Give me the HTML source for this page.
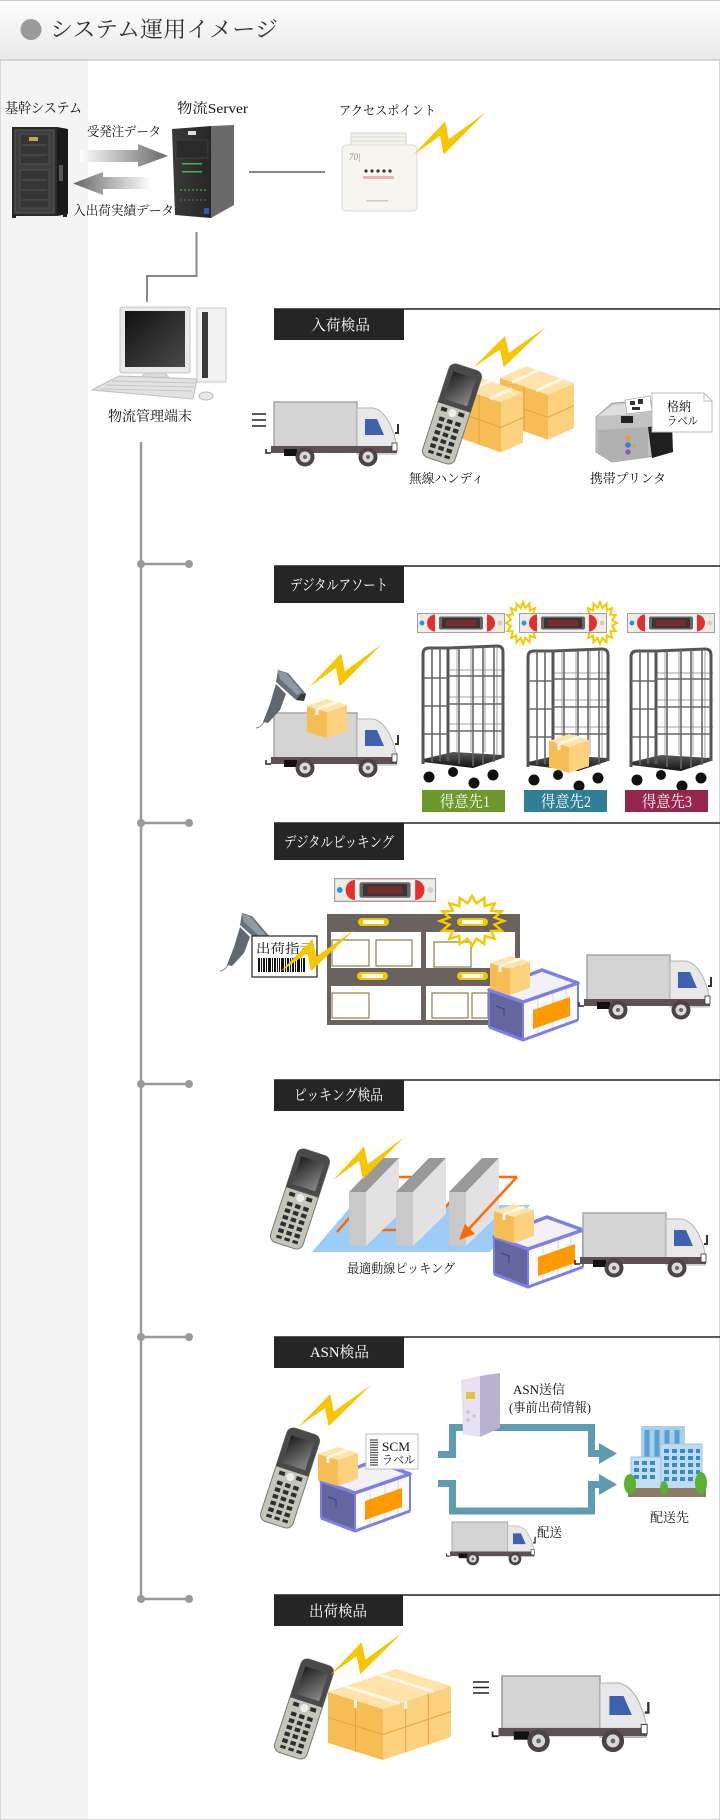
<!DOCTYPE html>
<html><head><meta charset="utf-8"><style>
html,body{margin:0;padding:0;background:#fff;}
svg{display:block;}
.t{font-family:"Liberation Serif","Noto Serif CJK SC",serif;}
</style></head><body>
<svg width="720" height="1820" viewBox="0 0 720 1820" xmlns="http://www.w3.org/2000/svg">
<defs>
<linearGradient id="hg" x1="0" y1="0" x2="0" y2="1"><stop offset="0" stop-color="#fdfdfd"/><stop offset="1" stop-color="#eaeaea"/></linearGradient>
<linearGradient id="ar" x1="0" x2="1" y1="0" y2="0"><stop offset="0" stop-color="#fff"/><stop offset="1" stop-color="#666"/></linearGradient>
<linearGradient id="al" x1="0" x2="1" y1="0" y2="0"><stop offset="0" stop-color="#666"/><stop offset="1" stop-color="#fff"/></linearGradient>
<linearGradient id="scr" x1="0" y1="0" x2="1" y2="1"><stop offset="0" stop-color="#1e1e1e"/><stop offset="1" stop-color="#8a8a8a"/></linearGradient>
<linearGradient id="plat" x1="0" y1="0" x2="0" y2="1"><stop offset="0" stop-color="#5a5a5a"/><stop offset="1" stop-color="#111"/></linearGradient>
<linearGradient id="pcs" x1="0" y1="0" x2="1" y2="1"><stop offset="0" stop-color="#111"/><stop offset="1" stop-color="#4a4a4a"/></linearGradient>
<linearGradient id="tw" x1="0" y1="0" x2="1" y2="0"><stop offset="0" stop-color="#3a3a3a"/><stop offset="1" stop-color="#262626"/></linearGradient>

<polygon id="bolt" points="0,60 44,13 49,38 100,0 42,59 37,33" fill="#f7c600"/>

<polygon id="burst" vector-effect="non-scaling-stroke" points="1,0 .706,.14 .924,.383 .598,.4 .707,.707 .4,.598 .383,.924 .14,.706 0,1 -.14,.706 -.383,.924 -.4,.598 -.707,.707 -.598,.4 -.924,.383 -.706,.14 -1,0 -.706,-.14 -.924,-.383 -.598,-.4 -.707,-.707 -.4,-.598 -.383,-.924 -.14,-.706 0,-1 .14,-.706 .383,-.924 .4,-.598 .707,-.707 .598,-.4 .924,-.383 .706,-.14"/>

<g id="truck">
<rect x="0" y="0" width="83" height="46" fill="#d4d4d4" stroke="#a6a6a6" stroke-width="1.5"/>
<path d="M83,6 L99,6 Q109,8 116,22 L120,32 L122,40 L122,52 L83,52 Z" fill="#e8e8e8" stroke="#b4b4b4" stroke-width="1"/>
<path d="M91,17 L103,17 L110,33 L91,33 Z" fill="#3e62ae"/>
<rect x="-3" y="44" width="126" height="7" fill="#5f5153"/>
<rect x="10" y="47" width="13" height="7" fill="#111"/>
<circle cx="31" cy="55" r="9.5" fill="#4d4245"/><circle cx="31" cy="55" r="5.5" fill="#d9d9d9"/><circle cx="31" cy="55" r="2" fill="#666"/>
<circle cx="94" cy="55" r="9.5" fill="#4d4245"/><circle cx="94" cy="55" r="5.5" fill="#d9d9d9"/><circle cx="94" cy="55" r="2" fill="#666"/>
<path d="M-8,47 L-8,51 L-3,51" stroke="#222" stroke-width="1.5" fill="none"/>
<path d="M124,22 L124,31 L121,31" stroke="#333" stroke-width="2" fill="none"/>
<rect x="118" y="41" width="5" height="8" fill="#fff" stroke="#333" stroke-width=".8"/>
</g>

<g id="box1">
<polygon points="0,8 20,14 20,40 0,34" fill="#f7bd55"/>
<polygon points="20,14 40,7 40,33 20,40" fill="#fcd27e"/>
<polygon points="0,8 20,14 40,7 20,1" fill="#fee4aa"/>
<line x1="10" y1="11" x2="30" y2="4" stroke="#fff8e6" stroke-width="3"/>
<line x1="10" y1="11" x2="10" y2="17" stroke="#fff8e6" stroke-width="3"/>
</g>

<g id="handy">
<rect x="0" y="0" width="34" height="98" rx="7" fill="#c3c6b8" stroke="#7a7a72" stroke-width="1"/>
<path d="M0,7 Q0,0 7,0 L27,0 Q34,0 34,7 L34,42 L0,42 Z" fill="#4a4a4a"/>
<rect x="5" y="8" width="24" height="29" fill="url(#scr)"/>
<circle cx="17" cy="48" r="4" fill="#eee"/>
<g fill="#2e2e2e">
<rect x="5" y="45" width="6" height="4"/><rect x="23" y="45" width="6" height="4"/>
<rect x="6" y="55" width="5.5" height="4"/><rect x="14.5" y="55" width="5.5" height="4"/><rect x="23" y="55" width="5.5" height="4"/>
<rect x="6" y="62" width="5.5" height="4"/><rect x="14.5" y="62" width="5.5" height="4"/><rect x="23" y="62" width="5.5" height="4"/>
<rect x="6" y="69" width="5.5" height="4"/><rect x="14.5" y="69" width="5.5" height="4"/><rect x="23" y="69" width="5.5" height="4"/>
<rect x="6" y="76" width="5.5" height="4"/><rect x="14.5" y="76" width="5.5" height="4"/><rect x="23" y="76" width="5.5" height="4"/>
<rect x="6" y="83" width="5.5" height="4"/><rect x="14.5" y="83" width="5.5" height="4"/><rect x="23" y="83" width="5.5" height="4"/>
<rect x="6" y="90" width="5.5" height="3"/><rect x="14.5" y="90" width="5.5" height="3"/><rect x="23" y="90" width="5.5" height="3"/>
</g>
</g>

<g id="gun">
<path d="M8,52 Q4,58 0,58" stroke="#888" fill="none" stroke-width="1"/>
<polygon points="20,14 30,24 24,40 12,53 7,52 14,34" fill="#5f6871"/>
<polygon points="22,0 32,3 50,24 48,31 40,30 20,12" fill="#66707a"/>
<polygon points="22,1 30,3 46,22 41,25 24,9" fill="#8f99a3"/>
<polygon points="40,30 48,31 50,24 45,24" fill="#3a3a30"/>
</g>

<g id="lbar">
<rect x="0.5" y="0.5" width="87" height="19" fill="#efece5" stroke="#a0a0a0"/>
<circle cx="5" cy="10" r="2.5" fill="#1e9be0"/>
<rect x="10" y="1.5" width="68" height="17" rx="8.5" fill="#e3302e"/>
<rect x="18" y="1.5" width="52" height="17" fill="#f1f1f1"/>
<rect x="22" y="3.5" width="44" height="13" rx="2" fill="#666"/>
<rect x="25" y="5" width="38" height="10" fill="#3b3535"/>
<rect x="29" y="7" width="30" height="6" fill="#7a2b2b"/>
<circle cx="83" cy="10" r="2.5" fill="#d0d0d0"/>
</g>

<g id="cart">
<path d="M36,5V108M50,4V108M64,4V108M76,4V110M27,26H84M27,53H84M27,80H84" stroke="#a0a0a0" stroke-width="1" fill="none"/>
<polygon points="2,115 32,108 82,111 82,114 52,124 2,118" fill="url(#plat)"/>
<path d="M2,120 V10 Q2,4 8,4 L27,4 L76,2 Q82,2 82,8 V114" stroke="#555" stroke-width="3" fill="none"/>
<line x1="27" y1="4" x2="27" y2="117" stroke="#555" stroke-width="3"/>
<path d="M11,4V118M19,4V117" stroke="#666" stroke-width="1.6" fill="none"/>
<path d="M38,3V120M52,3V122M62,3V121M73,3V118" stroke="#666" stroke-width="1.6" fill="none"/>
<path d="M2,34H27M2,62H27M2,90H27M27,32H82M27,60H82M27,87H82" stroke="#666" stroke-width="1.6" fill="none"/>
<circle cx="8" cy="133" r="5.5" fill="#111"/>
<circle cx="32" cy="128" r="5" fill="#111"/>
<circle cx="53" cy="139" r="5.5" fill="#111"/>
<circle cx="72" cy="131" r="5.5" fill="#111"/>
</g>

<g id="crate">
<polygon points="1,22 54,2 90,15 35,34" fill="#f2f2f6"/>
<polygon points="1,22 35,34 35,72 1,59" fill="#63669f"/>
<path d="M8,38 L16,41 L16,48" stroke="#3f4275" stroke-width="1" fill="none"/>
<polygon points="35,34 90,15 90,52 35,72" fill="#fbfbff" stroke="#b8baf0" stroke-width="1"/>
<path d="M50,29V66M65,24V61M78,19V56" stroke="#d4d5f0" stroke-width="1"/>
<polygon points="45,42 82,29 82,48 45,61" fill="#ff9a00"/>
<polygon points="1,22 54,2 90,15 35,34" fill="none" stroke="#7d7fe6" stroke-width="3.5" stroke-linejoin="round"/>
<polyline points="1,59 35,72 90,52" stroke="#7d7fe6" stroke-width="3" fill="none"/>
<line x1="35" y1="34" x2="35" y2="72" stroke="#7d7fe6" stroke-width="2"/>
<line x1="90" y1="15" x2="90" y2="52" stroke="#7d7fe6" stroke-width="2"/>
<line x1="1" y1="22" x2="1" y2="59" stroke="#7d7fe6" stroke-width="2"/>
</g>
</defs>

<!-- page background -->
<rect x="0" y="0" width="720" height="1820" fill="#fff"/>
<rect x="0" y="60" width="88" height="1760" fill="#f4f4f4"/>
<rect x="0.5" y="0.5" width="719" height="1819" fill="none" stroke="#d9d9d9"/>

<!-- header -->
<rect x="0" y="0" width="720" height="60" fill="url(#hg)"/>
<line x1="0" y1="0.5" x2="720" y2="0.5" stroke="#c6ceda"/>
<line x1="0" y1="60" x2="720" y2="60" stroke="#c9ccd3" stroke-width="1.5"/>
<circle cx="31" cy="29.5" r="10.5" fill="#9a9a9a"/>
<text class="t" x="50" y="37" font-size="22" fill="#333" textLength="228" lengthAdjust="spacingAndGlyphs">システム運用イメージ</text>

<!-- top system -->
<text class="t" x="5" y="113" font-size="14" fill="#111" textLength="77" lengthAdjust="spacingAndGlyphs">基幹システム</text>
<text class="t" x="177" y="113" font-size="14" fill="#111" textLength="71" lengthAdjust="spacingAndGlyphs">物流Server</text>
<text class="t" x="87" y="136" font-size="13" fill="#111" textLength="74" lengthAdjust="spacingAndGlyphs">受発注データ</text>
<text class="t" x="73" y="215" font-size="13" fill="#111" textLength="101" lengthAdjust="spacingAndGlyphs">入出荷実績データ</text>
<text class="t" x="339" y="115" font-size="13" fill="#111" textLength="97" lengthAdjust="spacingAndGlyphs">アクセスポイント</text>

<!-- rack -->
<rect x="12" y="127" width="45" height="89" fill="#2a2a2a"/>
<polygon points="57,127 68,129 68,214 57,216" fill="#1a1a1a"/>
<rect x="15" y="130" width="39" height="83" fill="#3e3e3e" stroke="#5a5a5a"/>
<rect x="20" y="134" width="29" height="30" fill="#353535" stroke="#585858" stroke-width=".8"/>
<rect x="20" y="170" width="29" height="38" fill="#353535" stroke="#585858" stroke-width=".8"/>
<path d="M22,145H47M22,155H47M22,180H47M22,190H47M22,200H47" stroke="#555" stroke-width="1"/>
<rect x="29" y="137" width="9" height="4" fill="#c9a64a"/>
<rect x="59" y="165" width="4" height="16" fill="#555"/>
<rect x="12" y="214" width="4" height="4" fill="#222"/><rect x="63" y="212" width="4" height="5" fill="#222"/>

<!-- arrows -->
<polygon points="80,150 138,150 138,144 168,156 138,167 138,162 80,162" fill="url(#ar)"/>
<polygon points="151,177 103,177 103,172 73,183.5 103,195 103,189 151,189" fill="url(#al)"/>

<!-- tower server -->
<polygon points="172,129 211,126 211,218 175,215" fill="url(#tw)"/>
<polygon points="211,126 234,125 234,205 211,218" fill="#6a6a6a"/>
<rect x="188" y="131" width="8" height="4" fill="#ddd"/>
<rect x="176" y="140" width="32" height="18" fill="#2a2a2a" stroke="#444" stroke-width=".8"/>
<rect x="182" y="163" width="20" height="1.5" fill="#4caf50"/>
<rect x="182" y="171" width="20" height="1.5" fill="#4caf50"/>
<path d="M180,190H206" stroke="#3f8f45" stroke-width="1.5" stroke-dasharray="2,2"/>
<path d="M180,200H206" stroke="#666" stroke-width="1" stroke-dasharray="2,2"/>
<rect x="204" y="208" width="5" height="6" fill="#2a5ab0"/>

<!-- AP line & device -->
<line x1="249" y1="172" x2="325" y2="172" stroke="#888" stroke-width="2"/>
<rect x="351" y="133" width="55" height="14" fill="#f4f2ec" stroke="#d5d3cd"/>
<path d="M352,137H405M352,141H405" stroke="#dedcd6" stroke-width="1"/>
<rect x="342" y="145" width="75" height="66" rx="4" fill="#f7f5f0" stroke="#dcdad4"/>
<text class="t" x="349" y="160" font-size="9" font-style="italic" fill="#8a8a8a">70|</text>
<g fill="#333"><circle cx="366" cy="171" r="1.6"/><circle cx="372" cy="171" r="1.6"/><circle cx="378" cy="171" r="1.6"/><circle cx="384" cy="171" r="1.6"/><circle cx="390" cy="171" r="1.6"/></g>
<rect x="363" y="176" width="31" height="3" fill="#e9b5b5"/>
<rect x="366" y="200" width="22" height="1.5" fill="#ccc"/>
<use href="#bolt" transform="translate(413,112) scale(.73,.72)"/>

<!-- connector to PC -->
<polyline points="196.5,232 196.5,276 147,276 147,302" fill="none" stroke="#888" stroke-width="2"/>

<!-- PC -->
<rect x="120" y="307" width="70" height="66" rx="2" fill="#e9e9e9" stroke="#c8c8c8"/>
<rect x="125" y="311" width="60" height="56" fill="url(#pcs)"/>
<path d="M145,373 L165,373 L171,380 L139,380 Z" fill="#dcdcdc" stroke="#c4c4c4"/>
<rect x="197" y="308" width="29" height="74" fill="#f2f2f2" stroke="#c8c8c8"/>
<rect x="202" y="312" width="6" height="66" fill="#3a3a3a"/>
<polygon points="92,390 119,376 197,379 193,399" fill="#e2e2e2" stroke="#bdbdbd"/>
<path d="M100,389L192,391M106,385L194,387M112,381L195,383" stroke="#c6c6c6" stroke-width="1"/>
<ellipse cx="206" cy="396" rx="7" ry="4" fill="#e8e8e8" stroke="#bbb"/>
<text class="t" x="108" y="421" font-size="14" fill="#111" textLength="84" lengthAdjust="spacingAndGlyphs">物流管理端末</text>

<!-- timeline -->
<line x1="141" y1="442" x2="141" y2="1599" stroke="#9a9a9a" stroke-width="2.5"/>
<g stroke="#9a9a9a" stroke-width="2.5" fill="#9a9a9a">
<line x1="141" y1="564" x2="189" y2="564"/><circle cx="141" cy="564" r="4" stroke="none"/><circle cx="189" cy="564" r="4" stroke="none"/>
<line x1="141" y1="823" x2="189" y2="823"/><circle cx="141" cy="823" r="4" stroke="none"/><circle cx="189" cy="823" r="4" stroke="none"/>
<line x1="141" y1="1084" x2="189" y2="1084"/><circle cx="141" cy="1084" r="4" stroke="none"/><circle cx="189" cy="1084" r="4" stroke="none"/>
<line x1="141" y1="1337" x2="189" y2="1337"/><circle cx="141" cy="1337" r="4" stroke="none"/><circle cx="189" cy="1337" r="4" stroke="none"/>
<line x1="141" y1="1599" x2="189" y2="1599"/><circle cx="141" cy="1599" r="4" stroke="none"/><circle cx="189" cy="1599" r="4" stroke="none"/>
</g>

<!-- section header lines and boxes -->
<g stroke="#222" stroke-width="1.5">
<line x1="274" y1="309" x2="720" y2="309"/>
<line x1="274" y1="566" x2="720" y2="566"/>
<line x1="274" y1="823" x2="720" y2="823"/>
<line x1="274" y1="1080" x2="720" y2="1080"/>
<line x1="274" y1="1337" x2="720" y2="1337"/>
<line x1="274" y1="1595" x2="720" y2="1595"/>
</g>
<g fill="#252525">
<rect x="274" y="309" width="130" height="31"/>
<rect x="274" y="566" width="130" height="37"/>
<rect x="274" y="823" width="130" height="37"/>
<rect x="274" y="1080" width="130" height="31"/>
<rect x="274" y="1337" width="130" height="31"/>
<rect x="274" y="1595" width="129" height="31"/>
</g>
<g class="t" fill="#fff" font-size="15">
<text x="311" y="330" textLength="59" lengthAdjust="spacingAndGlyphs">入荷検品</text>
<text x="290" y="590" textLength="98" lengthAdjust="spacingAndGlyphs">デジタルアソート</text>
<text x="284" y="847" textLength="110" lengthAdjust="spacingAndGlyphs">デジタルピッキング</text>
<text x="294" y="1100" textLength="89" lengthAdjust="spacingAndGlyphs">ピッキング検品</text>
<text x="310" y="1357" textLength="59" lengthAdjust="spacingAndGlyphs">ASN検品</text>
<text x="309" y="1616" textLength="58" lengthAdjust="spacingAndGlyphs">出荷検品</text>
</g>

<!-- ===== S1 入荷検品 ===== -->
<path d="M252,414H266M252,420H266M252,426H266" stroke="#222" stroke-width="1.5"/>
<use href="#truck" transform="translate(274,402)"/>
<polygon points="500,378 548,394.8 548,439.8 500,423" fill="#f7bd55"/>
<polygon points="548,394.8 574,383.1 574,428.1 548,439.8" fill="#fcd27e"/>
<polygon points="500,378 548,394.8 574,383.1 526,366.3" fill="#fee4aa"/>
<path d="M500,400.5L548,417.3L574,405.6M524,386.4V431.4" stroke="#e5a440" stroke-width="1" fill="none"/>
<path d="M512,382.2L538,370.5M536,390.6L562,378.9" stroke="#fff8e6" stroke-width="3"/>
<polygon points="457,387 501,402.4 501,452.4 457,437" fill="#f7bd55"/>
<polygon points="501,402.4 523,392.5 523,442.5 501,452.4" fill="#fcd27e"/>
<polygon points="457,387 501,402.4 523,392.5 479,377.1" fill="#fee4aa"/>
<path d="M457,412L501,427.4L523,417.5M479,394.7V444.7" stroke="#e5a440" stroke-width="1" fill="none"/>
<path d="M468,390.85L490,381M490,398.55L512,388.7" stroke="#fff8e6" stroke-width="3"/>
<use href="#handy" transform="translate(452,414) rotate(18) translate(-17,-49)"/>
<use href="#bolt" transform="translate(473,327) scale(.73,.68)"/>
<!-- printer -->
<polygon points="596,417 612,403 650,400 656,410 656,456 612,462 596,452" fill="#c2c2c2" stroke="#9a9a9a" stroke-width=".8"/>
<polygon points="598,416 613,405 649,402 640,414" fill="#dedede"/>
<polygon points="625,400 650,396 652,411 627,414" fill="#fff" stroke="#aaa" stroke-width=".8"/>
<path d="M630,401h5v4h-5zM638,399h5v5h-5zM632,407h8v3h-8z" fill="#333"/>
<rect x="621" y="416" width="12" height="7" fill="#222"/>
<polygon points="598,430 648,427 648,457 612,461 598,452" fill="#b0b0b0"/>
<polygon points="648,427 672,424 673,452 652,458" fill="#1e1e1e"/>
<circle cx="628" cy="438" r="2.7" fill="#f29a2e"/><circle cx="628" cy="445" r="2.7" fill="#3a7ad0"/><circle cx="628" cy="452" r="2.7" fill="#8a5ab0"/><circle cx="634" cy="446" r="1.8" fill="#9ac040"/>
<path d="M652,393 L704,393 L712,401 L712,432 L652,432 Z" fill="#fff" stroke="#bcbcbc"/>
<path d="M704,393 L704,401 L712,401" fill="none" stroke="#bcbcbc"/>
<text class="t" x="667" y="411" font-size="13" fill="#111" textLength="24" lengthAdjust="spacingAndGlyphs">格納</text>
<text class="t" x="667" y="425" font-size="12" fill="#111" textLength="31" lengthAdjust="spacingAndGlyphs">ラベル</text>
<text class="t" x="409" y="483" font-size="13" fill="#111" textLength="75" lengthAdjust="spacingAndGlyphs">無線ハンディ</text>
<text class="t" x="590" y="483" font-size="13" fill="#111" textLength="76" lengthAdjust="spacingAndGlyphs">携帯プリンタ</text>

<!-- ===== S2 デジタルアソート ===== -->
<use href="#lbar" transform="translate(417,613)"/>
<use href="#burst" transform="translate(523,623) scale(17,21)" fill="#fff" stroke="#f5c800" stroke-width="2"/>
<use href="#burst" transform="translate(600,623) scale(17,21)" fill="#fff" stroke="#f5c800" stroke-width="2"/>
<use href="#lbar" transform="translate(519,613)"/>
<use href="#lbar" transform="translate(627,613)"/>
<use href="#cart" transform="translate(421,644)"/>
<use href="#cart" transform="translate(526,647)"/>
<use href="#cart" transform="translate(629,647)"/>
<use href="#box1" transform="translate(549,733)"/>
<rect x="422" y="790" width="83" height="22" fill="#6b9a2a"/>
<rect x="524" y="790" width="83" height="22" fill="#2e7f95"/>
<rect x="625" y="790" width="83" height="22" fill="#97264f"/>
<g class="t" fill="#fff" font-size="16">
<text x="440" y="807" textLength="50" lengthAdjust="spacingAndGlyphs">得意先1</text>
<text x="541" y="807" textLength="50" lengthAdjust="spacingAndGlyphs">得意先2</text>
<text x="642" y="807" textLength="50" lengthAdjust="spacingAndGlyphs">得意先3</text>
</g>
<use href="#truck" transform="translate(274,713)"/>
<use href="#box1" transform="translate(307,698)"/>
<use href="#gun" transform="translate(256,670)"/>
<use href="#bolt" transform="translate(309,644) scale(.73,.72)"/>

<!-- ===== S3 デジタルピッキング ===== -->
<use href="#lbar" transform="translate(334,878) scale(1.16,1.2)"/>
<rect x="327" y="914" width="193" height="111" fill="#6b615e"/>
<rect x="331" y="932" width="90" height="36" fill="#fff"/>
<rect x="426" y="932" width="89" height="36" fill="#fff"/>
<rect x="331" y="986" width="90" height="34" fill="#fff"/>
<rect x="426" y="986" width="89" height="34" fill="#fff"/>
<g fill="none" stroke="#8b8045" stroke-width="1.2">
<rect x="332" y="940" width="37" height="26"/><rect x="376" y="940" width="36" height="26"/>
<rect x="434" y="942" width="37" height="25"/>
<rect x="332" y="993" width="37" height="25"/><rect x="432" y="993" width="36" height="25"/><rect x="472" y="993" width="16" height="25"/>
</g>
<g fill="#f5c400">
<rect x="358" y="918" width="31" height="8" rx="4"/><rect x="457" y="918" width="31" height="8" rx="4"/>
<rect x="357" y="972" width="31" height="8" rx="4"/><rect x="457" y="972" width="31" height="8" rx="4"/>
</g>
<g fill="#fff">
<rect x="363" y="920" width="21" height="4"/><rect x="462" y="920" width="21" height="4"/>
<rect x="362" y="974" width="21" height="4"/><rect x="462" y="974" width="21" height="4"/>
</g>
<use href="#burst" transform="translate(472,921) scale(32,25)" fill="none" stroke="#f5c800" stroke-width="2.5"/>
<use href="#crate" transform="translate(488,968)"/>
<use href="#box1" transform="translate(490,955)"/>
<use href="#truck" transform="translate(587,955)"/>
<use href="#gun" transform="translate(220,913)"/>
<rect x="252" y="936" width="65" height="41" fill="#fff" stroke="#222" stroke-width="1.2"/>
<text class="t" x="256" y="953" font-size="13" fill="#111" textLength="58" lengthAdjust="spacingAndGlyphs">出荷指示</text>
<g fill="#111">
<rect x="258" y="958" width="2" height="14"/><rect x="261" y="958" width="1" height="14"/><rect x="263" y="958" width="2" height="14"/><rect x="266" y="958" width="1" height="14"/><rect x="268" y="958" width="3" height="14"/><rect x="272" y="958" width="1" height="14"/><rect x="274" y="958" width="2" height="14"/><rect x="277" y="958" width="1" height="14"/><rect x="279" y="958" width="1" height="14"/><rect x="281" y="958" width="3" height="14"/><rect x="285" y="958" width="1" height="14"/><rect x="287" y="958" width="2" height="14"/><rect x="290" y="958" width="1" height="14"/><rect x="292" y="958" width="2" height="14"/><rect x="295" y="958" width="1" height="14"/><rect x="297" y="958" width="3" height="14"/><rect x="301" y="958" width="1" height="14"/><rect x="303" y="958" width="2" height="14"/>
</g>
<use href="#bolt" transform="translate(280,930) scale(.74,.7)"/>

<!-- ===== S4 ピッキング検品 ===== -->
<polygon points="312,1252 490,1252 530,1205 352,1205" fill="#9dcdf7"/>
<polyline points="337,1232 385,1177 412,1177 374,1230 427,1230 470,1177 517,1177" fill="none" stroke="#ff6a00" stroke-width="2.5"/>
<g>
<polygon points="349,1192 366,1192 399,1158 382,1158" fill="#999"/>
<polygon points="366,1192 399,1158 399,1214 366,1246" fill="#e2e2e2"/>
<rect x="349" y="1192" width="17" height="54" fill="#c9c9c9"/>
<polygon points="396,1192 413,1192 446,1158 429,1158" fill="#999"/>
<polygon points="413,1192 446,1158 446,1214 413,1246" fill="#e2e2e2"/>
<rect x="396" y="1192" width="17" height="54" fill="#c9c9c9"/>
<polygon points="449,1192 466,1192 499,1158 482,1158" fill="#999"/>
<polygon points="466,1192 499,1158 499,1214 466,1246" fill="#e2e2e2"/>
<rect x="449" y="1192" width="17" height="54" fill="#c9c9c9"/>
</g>
<line x1="517" y1="1177" x2="466" y2="1232" stroke="#ff6a00" stroke-width="2.5"/>
<polygon points="459,1240 475,1234 465,1224" fill="#ff6a00"/>
<use href="#handy" transform="translate(300,1199) rotate(18) translate(-17,-49)"/>
<use href="#bolt" transform="translate(333,1137) scale(.71,.72)"/>
<text class="t" x="347" y="1273" font-size="13" fill="#111" textLength="108" lengthAdjust="spacingAndGlyphs">最適動線ピッキング</text>
<use href="#crate" transform="translate(493,1215)"/>
<use href="#box1" transform="translate(494,1203)"/>
<use href="#truck" transform="translate(583,1213)"/>

<!-- ===== S5 ASN検品 ===== -->
<use href="#handy" transform="translate(290,1478) rotate(18) translate(-17,-49)"/>
<use href="#bolt" transform="translate(298,1385) scale(.73,.7)"/>
<use href="#crate" transform="translate(320,1459)"/>
<use href="#box1" transform="translate(318,1446)"/>
<rect x="366" y="1434" width="52" height="35" fill="#fff" stroke="#bdbdbd"/>
<path d="M370,1440h8M370,1442.5h8M370,1445h8M370,1447.5h8M370,1450h8M370,1452.5h8M370,1455h8M370,1457.5h8M370,1460h8M370,1462.5h8M370,1465h8" stroke="#555" stroke-width="1.2"/>
<text class="t" x="382" y="1451" font-size="13" fill="#111" textLength="28" lengthAdjust="spacingAndGlyphs">SCM</text>
<text class="t" x="382" y="1464" font-size="12" fill="#111" textLength="33" lengthAdjust="spacingAndGlyphs">ラベル</text>
<polyline points="438,1454.5 452.5,1454.5 452.5,1427.5 591.5,1427.5 591.5,1453.5 601,1453.5" fill="none" stroke="#5d9cb1" stroke-width="7"/>
<polygon points="599,1443 617,1453.5 599,1464" fill="#5d9cb1"/>
<polyline points="438,1483.5 452.5,1483.5 452.5,1511 591.5,1511 591.5,1484.5 601,1484.5" fill="none" stroke="#5d9cb1" stroke-width="7"/>
<polygon points="599,1474 617,1484.5 599,1495" fill="#5d9cb1"/>
<polygon points="461,1380 480,1376 480,1437 463,1434" fill="#e6e2ef"/>
<polygon points="480,1376 500,1373 500,1428 480,1437" fill="#b9b3d0"/>
<polygon points="461,1380 480,1376 500,1373 482,1375" fill="#f2f0f6"/>
<rect x="466" y="1392" width="9" height="7" fill="#e8c040"/>
<circle cx="468" cy="1412" r="1.8" fill="#c8c0d8"/><circle cx="474" cy="1416" r="1.8" fill="#c8c0d8"/><circle cx="468" cy="1420" r="1.8" fill="#c8c0d8"/>
<text class="t" x="513" y="1394" font-size="13" fill="#111" textLength="52" lengthAdjust="spacingAndGlyphs">ASN送信</text>
<text class="t" x="509" y="1412" font-size="13" fill="#111" textLength="82" lengthAdjust="spacingAndGlyphs">(事前出荷情報)</text>
<rect x="641" y="1426" width="44" height="64" fill="#a9d0ea"/>
<path d="M647,1430V1470M657,1430V1470M667,1430V1470M677,1430V1470" stroke="#5b9fd0" stroke-width="5"/>
<rect x="660" y="1444" width="42" height="48" fill="#bcdcf1" stroke="#9cc4e0"/>
<path d="M664,1451H700M664,1458H700M664,1465H700M664,1472H700M664,1479H700" stroke="#3a88c4" stroke-width="4" stroke-dasharray="5,3"/>
<rect x="631" y="1457" width="30" height="35" fill="#c2def2" stroke="#9cc4e0"/>
<path d="M634,1463H658M634,1470H658M634,1477H658" stroke="#3a88c4" stroke-width="4" stroke-dasharray="5,3"/>
<rect x="628" y="1488" width="78" height="9" fill="#8d7c63"/>
<ellipse cx="630" cy="1484" rx="6" ry="10" fill="#5cb032"/>
<ellipse cx="701" cy="1483" rx="6" ry="11" fill="#5cb032"/>
<ellipse cx="664" cy="1488" rx="4" ry="7" fill="#5cb032"/>
<text class="t" x="650" y="1522" font-size="13" fill="#111" textLength="39" lengthAdjust="spacingAndGlyphs">配送先</text>
<use href="#truck" transform="translate(452,1522) scale(.67)"/>
<text class="t" x="537" y="1537" font-size="13" fill="#111" textLength="25" lengthAdjust="spacingAndGlyphs">配送</text>

<!-- ===== S6 出荷検品 ===== -->
<use href="#handy" transform="translate(304,1709) rotate(18) translate(-17,-49)"/>
<polygon points="328,1692 383,1709 383,1760 328,1743" fill="#f7bd55"/>
<polygon points="383,1709 451,1686 451,1737 383,1760" fill="#fcd27e"/>
<polygon points="328,1692 383,1709 451,1686 396,1669" fill="#fee4aa"/>
<path d="M328,1717.5L383,1734.5L451,1711.5M355.5,1700.5V1751.5M405.7,1701.3V1752.3M428.3,1693.6V1744.6" stroke="#e5a440" stroke-width="1" fill="none"/>
<path d="M345,1686.25L400,1703.25M379,1674.75L434,1691.75M355.5,1700.5V1708M405.7,1701.3V1709" stroke="#fff8e6" stroke-width="3"/>
<use href="#bolt" transform="translate(330,1633) scale(.72,.7)"/>
<path d="M473,1682H489M473,1687.5H489M473,1693H489" stroke="#222" stroke-width="1.5"/>
<use href="#truck" transform="translate(502,1676) scale(1.18)"/>
</svg>
</body></html>
